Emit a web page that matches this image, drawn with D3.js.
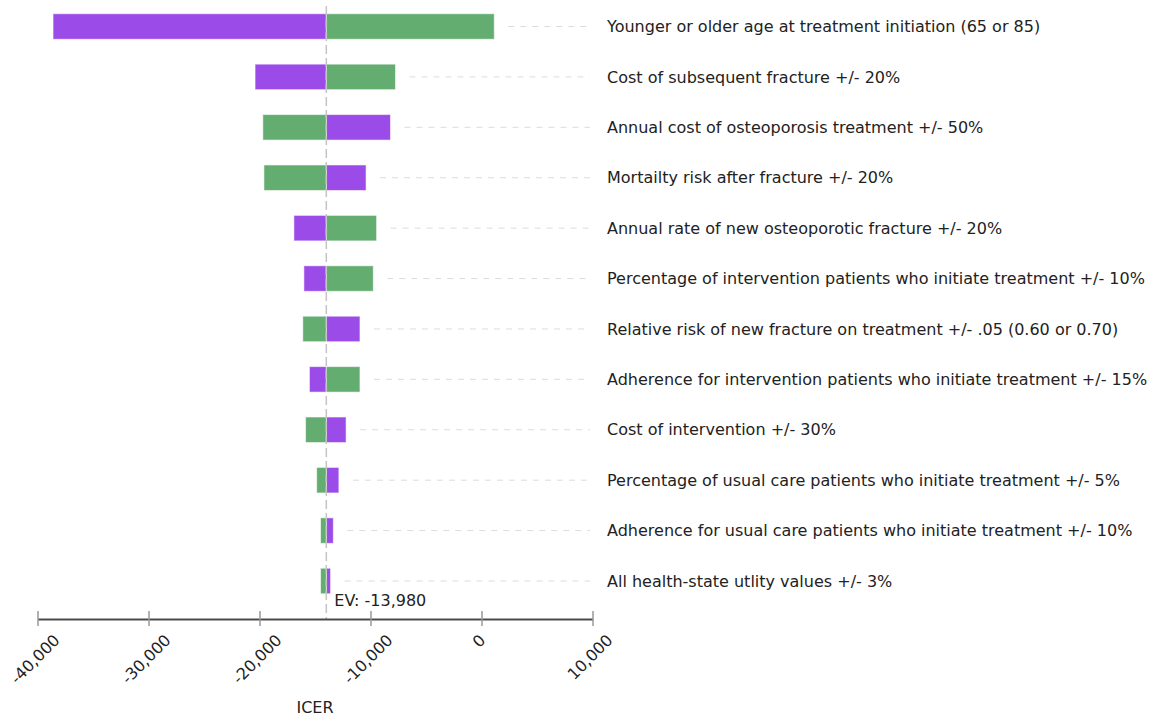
<!DOCTYPE html>
<html>
<head>
<meta charset="utf-8">
<script src="https://cdn.jsdelivr.net/npm/d3@7"></script>
<style>
  html, body { margin: 0; padding: 0; background: #fff; }
  svg { display: block; }
  text { font-family: "DejaVu Sans", sans-serif; fill: #222; }
</style>
</head>
<body>
<svg id="chart" width="1153" height="716"></svg>
<script>
// ---- Data ----
const parameters = [
  "Younger or older age at treatment initiation (65 or 85)",
  "Cost of subsequent fracture +/- 20%",
  "Annual cost of osteoporosis treatment +/- 50%",
  "Mortailty risk after fracture +/- 20%",
  "Annual rate of new osteoporotic fracture +/- 20%",
  "Percentage of intervention patients who initiate treatment +/- 10%",
  "Relative risk of new fracture on treatment +/- .05 (0.60 or 0.70)",
  "Adherence for intervention patients who initiate treatment +/- 15%",
  "Cost of intervention +/- 30%",
  "Percentage of usual care patients who initiate treatment +/- 5%",
  "Adherence for usual care patients who initiate treatment +/- 10%",
  "All health-state utlity values +/- 3%"
];
// ICER at one extreme of each parameter (purple bars)
const purpleICER = [-38600, -20400, -8200, -10400, -16900, -16000, -10950, -15500, -12200, -12850, -13350, -13600];
// ICER at the other extreme (green bars)
const greenICER  = [1150, -7750, -19700, -19600, -9450, -9750, -16100, -10950, -15850, -14850, -14500, -14500];
const expectedValue = -13980;
const xTicks = [-40000, -30000, -20000, -10000, 0, 10000];
const xAxisTitle = "ICER";

// ---- Layout ----
const svg = d3.select("#chart");
const FS = "16px";
const x = d3.scaleLinear().domain([-40000, 10000]).range([37.5, 592.5]);
const y = d3.scalePoint().domain(parameters).range([26.5, 581]);
const barH = 25.5;
const axisY = 619;
const labelX = 607;
const leaderEnd = 590;
const purple = "#9b4be7", green = "#64ad71";

const rows = parameters.map((p, i) => ({ p, a: purpleICER[i], b: greenICER[i] }));

// leader lines
svg.append("g").selectAll("line").data(rows).join("line")
  .attr("x1", d => x(Math.max(d.a, d.b, expectedValue)) + 14)
  .attr("x2", leaderEnd)
  .attr("y1", d => y(d.p)).attr("y2", d => y(d.p))
  .attr("stroke", "#dcdcdc").attr("stroke-width", 1)
  .attr("stroke-dasharray", "6,6");

// bars
const bars = svg.append("g");
function drawBars(key, color) {
  bars.selectAll("rect." + key).data(rows).join("rect")
    .attr("class", key)
    .attr("x", d => Math.min(x(d[key]), x(expectedValue)))
    .attr("width", d => Math.abs(x(d[key]) - x(expectedValue)))
    .attr("y", d => y(d.p) - barH / 2)
    .attr("height", barH)
    .attr("fill", color)
    .attr("stroke", "rgba(255,255,255,0.55)")
    .attr("stroke-width", 1);
}
drawBars("a", purple);
drawBars("b", green);

// EV line
svg.append("line")
  .attr("x1", x(expectedValue)).attr("x2", x(expectedValue))
  .attr("y1", 6).attr("y2", axisY)
  .attr("stroke", "#c4c4c4").attr("stroke-width", 1.5)
  .attr("stroke-dasharray", "9,4");

svg.append("text")
  .attr("x", x(expectedValue) + 8).attr("y", 606)
  .style("font-size", FS)
  .text("EV: " + d3.format(",")(expectedValue).replace("\u2212", "-"));

// parameter labels
svg.append("g").selectAll("text").data(rows).join("text")
  .attr("x", labelX).attr("y", d => y(d.p)).attr("dy", "0.35em")
  .style("font-size", FS)
  .text(d => d.p);

// axis
const fmt = v => d3.format(",")(v).replace("\u2212", "-");
const axis = d3.axisBottom(x).tickValues(xTicks).tickSize(0).tickFormat(fmt);
const ag = svg.append("g").attr("transform", `translate(0,${axisY})`).call(axis);
ag.select(".domain").attr("stroke", "#4a4a4a").attr("stroke-width", 2);
ag.selectAll(".tick").append("line")
  .attr("y1", -8).attr("y2", 7).attr("stroke", "#999").attr("stroke-width", 1.5);
ag.selectAll(".tick text").each(function () {
  const t = d3.select(this);
  t.attr("fill", "#222").style("font-size", FS)
   .style("font-family", "DejaVu Sans, sans-serif")
   .attr("text-anchor", "middle").attr("dy", "0.35em");
  const w = this.getComputedTextLength();
  const h = 12;
  const bh = (w + h) * Math.SQRT1_2;
  const cy = 14 + bh / 2;
  t.attr("y", 0).attr("x", 0)
   .attr("transform", `translate(-3,${cy}) rotate(-45)`);
});

svg.append("text")
  .attr("x", (x.range()[0] + x.range()[1]) / 2).attr("y", 713)
  .attr("text-anchor", "middle").style("font-size", FS)
  .text(xAxisTitle);
</script>
</body>
</html>
